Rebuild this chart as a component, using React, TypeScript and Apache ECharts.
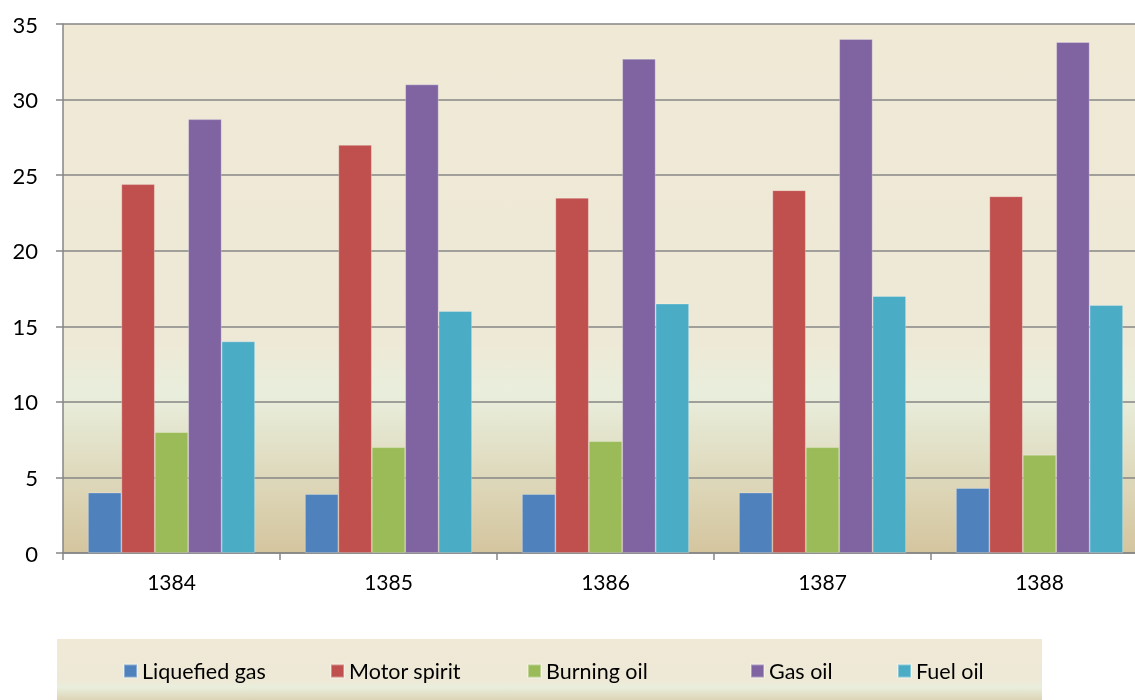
import React, { useEffect, useRef } from "react";
import * as echarts from "echarts";

const years = ["1384", "1385", "1386", "1387", "1388"];
const liquefiedGas = [4.0, 3.9, 3.9, 4.0, 4.3];
const motorSpirit = [24.4, 27.0, 23.5, 24.0, 23.6];
const burningOil = [8.0, 7.0, 7.4, 7.0, 6.5];
const gasOil = [28.7, 31.0, 32.7, 34.0, 33.8];
const fuelOil = [14.0, 16.0, 16.5, 17.0, 16.4];

const seriesNames = ["Liquefied gas", "Motor spirit", "Burning oil", "Gas oil", "Fuel oil"];
const seriesData = [liquefiedGas, motorSpirit, burningOil, gasOil, fuelOil];
const colors = ["#4F81BD", "#C0504D", "#9BBB59", "#8064A2", "#4BACC6"];
const legendLefts = [123, 330, 527, 750, 897];

const FONT = "Lato, 'Noto Sans', sans-serif";

function bgGradient() {
  return new echarts.graphic.LinearGradient(0, 0, 0, 1, [
    { offset: 0, color: "#EFE9D6" },
    { offset: 0.6, color: "#EEE9D6" },
    { offset: 0.7, color: "#E9EEDC" },
    { offset: 1, color: "#D4C59E" },
  ]);
}

export default function App() {
  const ref = useRef<HTMLDivElement>(null);
  useEffect(() => {
    if (!ref.current) return;
    const chart = echarts.init(ref.current, undefined, { renderer: "svg" });
    chart.setOption({
      animation: false,
      textStyle: { fontFamily: FONT },
      grid: {
        left: 63,
        top: 24,
        right: 0,
        bottom: 147,
        show: true,
        borderWidth: 0,
        backgroundColor: bgGradient(),
      },
      graphic: [
        {
          type: "rect",
          z: -1,
          shape: { x: 57, y: 639, width: 985, height: 69 },
          style: { fill: bgGradient() },
        },
      ],
      legend: seriesNames.map((n, i) => ({
        data: [n],
        left: legendLefts[i],
        top: 660,
        padding: 0,
        icon: "rect",
        itemWidth: 13,
        itemHeight: 13,
        itemGap: 5,
        textStyle: { fontSize: 21.5, color: "#000", fontFamily: FONT },
      })),
      xAxis: {
        type: "category",
        data: years,
        axisLine: { lineStyle: { color: "#868686", width: 1.5 } },
        axisTick: { show: true, length: 7, lineStyle: { color: "#868686", width: 1.5 } },
        axisLabel: { fontSize: 21, color: "#000", margin: 18, fontFamily: FONT },
      },
      yAxis: {
        type: "value",
        min: 0,
        max: 35,
        interval: 5,
        axisLine: { show: true, lineStyle: { color: "#868686", width: 1.5 } },
        axisTick: { show: true, length: 7, lineStyle: { color: "#868686", width: 1.5 } },
        axisLabel: { fontSize: 22, color: "#000", margin: 25, fontFamily: FONT },
        splitLine: { show: true, lineStyle: { color: "#868686", width: 1.5 } },
      },
      series: seriesNames.map((n, i) => ({
        name: n,
        type: "bar",
        data: seriesData[i],
        barGap: "0%",
        barCategoryGap: "23%",
        itemStyle: { color: colors[i], borderColor: "rgba(255,255,255,0.35)", borderWidth: 0.8 },
      })),
    });
    return () => chart.dispose();
  }, []);
  return (
    <div style={{ position: "fixed", left: 0, top: 0, width: 1135, height: 700, overflow: "hidden" }}>
      <div ref={ref} style={{ position: "absolute", left: 0, top: 0, width: 1148, height: 700 }} />
    </div>
  );
}
